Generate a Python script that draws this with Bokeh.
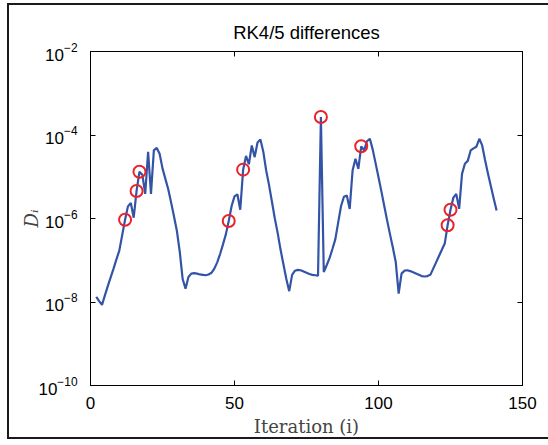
import numpy as np
from bokeh.plotting import figure
from bokeh.models import (LinearAxis, LogAxis, FixedTicker, LogTickFormatter,
                          CustomJSTickFormatter, Range1d, ColumnDataSource)
from bokeh.embed import file_html
from bokeh.resources import INLINE

# ---- data ----
iterations = list(range(2, 142))
log10_D = [
    -7.88, -7.98, -8.07, -7.84, -7.62, -7.41, -7.20, -6.98, -6.77, -6.40,   # 2-11
    -6.03, -5.71, -5.63, -5.98, -5.34, -4.88, -4.95, -5.41, -4.40, -5.41,   # 12-21
    -4.37, -4.31, -4.45, -4.80, -5.05, -5.30, -5.62, -5.95, -6.30, -6.80,   # 22-31
    -7.45, -7.68, -7.40, -7.32, -7.31, -7.32, -7.34, -7.35, -7.36, -7.34,   # 32-41
    -7.30, -7.20, -7.05, -6.85, -6.62, -6.38, -6.06, -5.70, -5.47, -5.42,   # 42-51
    -5.79, -4.83, -4.50, -4.70, -4.25, -4.53, -4.18, -4.11, -4.40, -4.85,   # 52-61
    -5.20, -5.60, -6.00, -6.35, -6.75, -7.10, -7.45, -7.74, -7.35, -7.25,   # 62-71
    -7.23, -7.24, -7.27, -7.30, -7.33, -7.35, -7.36, -7.37, -3.57, -7.28,   # 72-81
    -7.12, -6.95, -6.73, -6.50, -6.10, -5.70, -5.48, -5.45, -5.77, -4.85,   # 82-91
    -4.57, -4.81, -4.27, -4.37, -4.15, -4.09, -4.35, -4.68, -5.01, -5.35,   # 92-101
    -5.70, -6.05, -6.38, -6.70, -7.05, -7.80, -7.32, -7.25, -7.24, -7.26,   # 102-111
    -7.29, -7.32, -7.35, -7.38, -7.39, -7.38, -7.35, -7.20, -7.05, -6.90,   # 112-121
    -6.75, -6.60, -6.16, -5.79, -5.50, -5.41, -5.77, -4.93, -4.69, -4.62,   # 122-131
    -4.37, -4.32, -4.28, -4.09, -4.25, -4.60, -4.92, -5.22, -5.52, -5.81,   # 132-141
]
circle_iterations = [12, 16, 17, 48, 53, 80, 94, 124, 125]
x_ticks = [0, 50, 100, 150]
y_ticks = [1e-10, 1e-8, 1e-6, 1e-4, 1e-2]
title_text = "RK4/5 differences"
x_label = "Iteration (i)"
y_label = "D\u1d62"

D = [10.0 ** v for v in log10_D]
circle_D = [D[iterations.index(k)] for k in circle_iterations]

line_src = ColumnDataSource(dict(x=iterations, y=D))
circ_src = ColumnDataSource(dict(x=circle_iterations, y=circle_D))

p = figure(width=541, height=436, x_range=Range1d(0, 150),
           y_range=Range1d(1e-10, 1e-2), y_axis_type="log",
           output_backend="svg", toolbar_location=None,
           min_border_left=81, min_border_right=28,
           min_border_top=46, min_border_bottom=56,
           background_fill_color="white", border_fill_color="white")

p.styles = {"margin-left": "7px", "margin-top": "3px",
            "border-top": "2px solid #1a1a1a",
            "border-left": "2px solid #1a1a1a",
            "border-bottom": "2px solid #1a1a1a"}

p.grid.visible = False
p.outline_line_color = "black"
p.outline_line_width = 1

p.title.text = title_text
p.title.align = "center"
p.title.text_font = "Liberation Sans"
p.title.text_font_size = "18.5px"
p.title.text_font_style = "normal"
p.title.text_color = "black"
p.title.standoff = 17

def style_axis(ax):
    ax.major_tick_in = 5
    ax.major_tick_out = 0
    ax.minor_tick_in = 0
    ax.minor_tick_out = 0
    ax.axis_line_color = "black"
    ax.major_tick_line_color = "black"
    ax.major_label_text_font = "Liberation Sans"
    ax.major_label_text_font_size = "17px"
    ax.major_label_text_color = "black"

xa = p.xaxis[0]
style_axis(xa)
xa.ticker = FixedTicker(ticks=x_ticks)
xa.major_label_standoff = 11
xa.axis_label = x_label
xa.axis_label_text_font = "DejaVu Serif"
xa.axis_label_text_font_style = "normal"
xa.axis_label_text_font_size = "18px"
xa.axis_label_standoff = 4

ya = p.yaxis[0]
style_axis(ya)
ya.ticker = FixedTicker(ticks=y_ticks)
ya.formatter = LogTickFormatter()
ya.major_label_standoff = 13
ya.axis_label = y_label
ya.axis_label_text_font = "DejaVu Serif"
ya.axis_label_text_font_style = "italic"
ya.axis_label_text_font_size = "18px"
ya.axis_label_standoff = -7

blank = "return ''"
top = LinearAxis(ticker=FixedTicker(ticks=x_ticks),
                 formatter=CustomJSTickFormatter(code=blank))
style_axis(top)
top.major_label_standoff = 0
p.add_layout(top, "above")

right = LogAxis(ticker=FixedTicker(ticks=y_ticks),
                formatter=CustomJSTickFormatter(code=blank))
style_axis(right)
right.major_label_standoff = 0
p.add_layout(right, "right")

p.line("x", "y", source=line_src, line_color="#3354A6", line_width=2.2)
p.scatter("x", "y", source=circ_src, marker="circle", size=12,
          fill_color=None, line_color="#E8232B", line_width=2)

open("out.html", "w").write(file_html(p, INLINE))
